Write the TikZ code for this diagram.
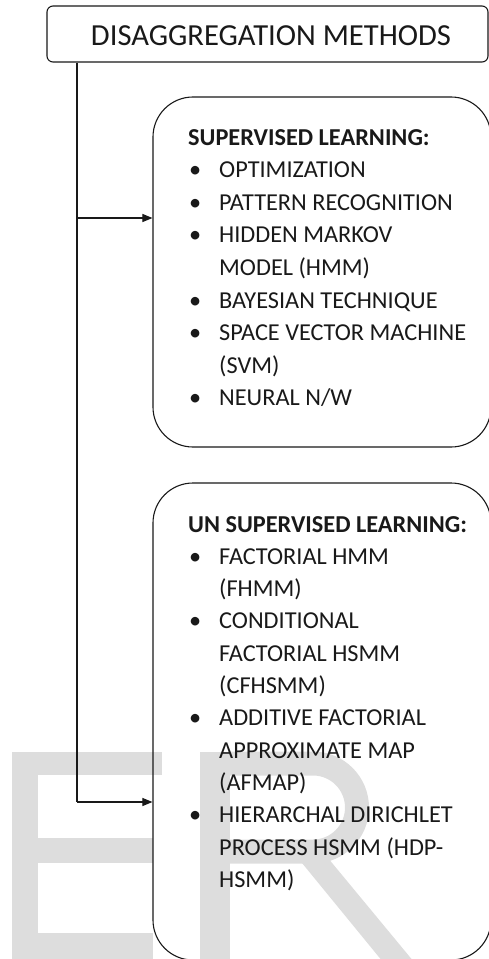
\documentclass[tikz,border=0pt]{standalone}
\usepackage{fontspec}
\setmainfont{Carlito}
\usetikzlibrary{arrows.meta}
\definecolor{wm}{RGB}{221,221,221}
\definecolor{ink}{RGB}{25,25,25}
\newcommand{\bul}{\makebox[31bp][l]{\hspace{1bp}\textbullet}}
\newcommand{\ind}{\hspace*{31bp}}
\begin{document}
\begin{tikzpicture}[x=1bp,y=-1bp,
  boxline/.style={draw=ink, line width=1.1bp},
  tbox/.style={boxline, rounded corners=6bp, minimum width=441bp, minimum height=56bp, inner sep=0pt},
  bigbox/.style={boxline, rounded corners=40bp, minimum width=338bp, inner sep=0pt},
  conn/.style={draw=ink, line width=1.1bp},
  arr/.style={conn, -{Triangle[length=10bp,width=8bp]}},
  listtext/.style={anchor=base west, inner sep=0pt, text=ink},
  wmark/.style={fill=wm, draw=none}]
\useasboundingbox (0,0) rectangle (489,959);
\clip (0,0) rectangle (489,959);
% watermark "ER"
\fill[wmark] (12,752) rectangle (38,962);
\fill[wmark] (12,752) rectangle (162,775);
\fill[wmark] (12,838) rectangle (153,863);
\fill[wmark] (12,933) rectangle (153,962);
\fill[wmark] (200,752) rectangle (230,962);
\fill[wmark, even odd rule]
  (228,751.5) -- (313,751.5) arc[start angle=-90, end angle=90, radius=56] -- (228,863.5) -- cycle
  (228,775.5) -- (313,775.5) arc[start angle=-90, end angle=90, radius=32] -- (228,839.5) -- cycle;
\fill[wmark] (293,852) -- (323,852) -- (414,962) -- (383,962) -- cycle;
% boxes
\node[tbox] (title) at (267.5,34) {};
\node[anchor=base, inner sep=0pt, text=ink, font=\fontsize{30.6bp}{36bp}\selectfont] (titletext) at (271,45) {DISAGGREGATION METHODS};
\node[bigbox, minimum height=350bp] (sbox) at (322,272) {};
\node[bigbox, minimum height=477bp] (ubox) at (322,721.5) {};
% texts
\node[listtext] (stext) at (188,145) {\parbox[t]{300bp}{\fontsize{24.3bp}{32.6bp}\selectfont
\textbf{SUPERVISED LEARNING:}\\
\bul OPTIMIZATION\\
\bul PATTERN RECOGNITION\\
\bul HIDDEN MARKOV\\
\ind MODEL (HMM)\\
\bul BAYESIAN TECHNIQUE\\
\bul SPACE VECTOR MACHINE\\
\ind (SVM)\\
\bul NEURAL N/W}};
\node[listtext] (utext) at (188,532) {\parbox[t]{300bp}{\fontsize{24.3bp}{32.3bp}\selectfont
\textbf{UN SUPERVISED LEARNING:}\\
\bul FACTORIAL HMM\\
\ind (FHMM)\\
\bul CONDITIONAL\\
\ind FACTORIAL HSMM\\
\ind (CFHSMM)\\
\bul ADDITIVE FACTORIAL\\
\ind APPROXIMATE MAP\\
\ind (AFMAP)\\
\bul HIERARCHAL DIRICHLET\\
\ind PROCESS HSMM (HDP-\\
\ind HSMM)}};
% connectors
\coordinate (j1) at (77,218);
\coordinate (j2) at (77,802);
\draw[conn] (j1 |- title.south) -- (j2);
\draw[arr] (j1) -- (j1 -| sbox.west);
\draw[arr] (j2) -- (j2 -| ubox.west);
\end{tikzpicture}
\end{document}
